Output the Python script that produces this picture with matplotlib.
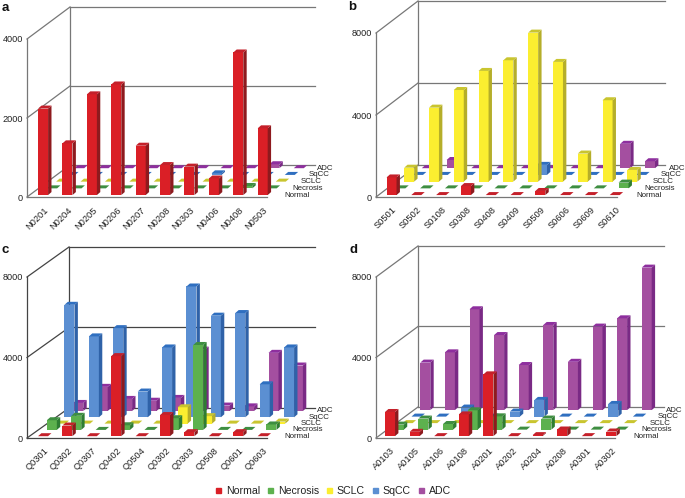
#Oblique bar charts of sample intensity per histology class
import matplotlib
matplotlib.use('Agg')
import matplotlib.pyplot as plt
from matplotlib.lines import Line2D
from matplotlib.patches import Polygon
from matplotlib.transforms import ScaledTranslation

plt.rcParams['font.family'] = ['Liberation Sans', 'DejaVu Sans']

series_names = ["Normal", "Necrosis", "SCLC", "SqCC", "ADC"]

labels_a = ["N0201", "N0204", "N0205", "N0206", "N0207", "N0208", "N0303", "N0406", "N0408", "N0503"]
normal_a = [2190, 1310, 2550, 2800, 1250, 760, 720, 420, 3610, 1690]
necrosis_a = [0, 0, 0, 0, 0, 0, 0, 0, 60, 0]
sclc_a = [0, 0, 0, 0, 0, 0, 0, 0, 0, 0]
sqcc_a = [0, 0, 0, 0, 0, 0, 40, 0, 0, 0]
adc_a = [0, 0, 0, 0, 0, 0, 0, 0, 100, 0]

labels_b = ["S0501", "S0502", "S0108", "S0308", "S0408", "S0409", "S0509", "S0606", "S0609", "S0610"]
normal_b = [860, 0, 0, 440, 0, 0, 200, 0, 0, 0]
necrosis_b = [0, 0, 0, 0, 0, 0, 0, 0, 0, 280]
sclc_b = [680, 3610, 4470, 5400, 5920, 7270, 5840, 1370, 3970, 570]
sqcc_b = [0, 0, 0, 0, 0, 490, 0, 0, 0, 0]
adc_b = [0, 400, 0, 0, 0, 0, 0, 0, 1190, 340]

labels_c = ["Q0301", "Q0302", "Q0307", "Q0402", "Q0504", "Q0302", "Q0303", "Q0508", "Q0601", "Q0603"]
normal_c = [0, 530, 0, 3980, 0, 1050, 200, 0, 200, 0]
necrosis_c = [480, 700, 0, 230, 0, 580, 4220, 0, 0, 270]
sclc_c = [0, 0, 0, 0, 0, 810, 370, 0, 0, 100]
sqcc_c = [5590, 4020, 4430, 1280, 3470, 6500, 5050, 5180, 1640, 3470]
adc_c = [400, 1200, 600, 510, 650, 3050, 270, 230, 2890, 2260]

labels_d = ["A0103", "A0105", "A0106", "A0108", "A0201", "A0202", "A0204", "A0208", "A0301", "A0302"]
normal_d = [1200, 215, 0, 1080, 3070, 0, 50, 330, 0, 230]
necrosis_d = [250, 550, 280, 960, 660, 0, 550, 0, 0, 0]
sclc_d = [0, 0, 0, 0, 0, 0, 0, 0, 0, 0]
sqcc_d = [0, 0, 450, 0, 250, 830, 0, 0, 630, 0]
adc_d = [2360, 2870, 5010, 3730, 2240, 4230, 2400, 4150, 4560, 7080]

ticks_a = [0, 2000, 4000]
ticks_bcd = [0, 4000, 8000]

front_colors = ["#DA1F26", "#5DB14E", "#FBEE30", "#5B8FD2", "#A44FA0"]
top_colors = ["#C4202A", "#3E8E41", "#C9C52F", "#2F6FC0", "#8E2F9E"]
side_colors = ["#8E1A1E", "#2E7D32", "#B5AE2A", "#2F62A8", "#7A2A85"]

W, H = 685, 498
fig = plt.figure(figsize=(W / 100, H / 100), dpi=100)
fig.patch.set_facecolor("white")


def draw_panel(labels, rows, ticks, x0, y0, back_x, back_y, right, front_right, bar0, step, wall):
    # pixels per data unit on each axis of this panel
    ppu = (y0 - wall[0]) / ticks[-1]
    top = back_y - (y0 - wall[0])
    ax = fig.add_axes([x0 / W, 1 - y0 / H, (right - x0) / W, (y0 - top) / H])
    ax.set_xlim((x0 - bar0) / step, (right - bar0) / step)
    ax.set_ylim(0, (y0 - top) / ppu)
    ax.patch.set_alpha(0)

    ux = 1 / step
    uy = 1 / ppu
    depth_x = (back_x - x0) * ux
    depth_y = (y0 - back_y) * uy
    xmin = ax.get_xlim()[0]
    xmax = ax.get_xlim()[1]

    # walls and grid
    wall_color = wall[1]
    for t in ticks:
        ax.plot([xmin, xmin + depth_x], [t, t + depth_y], color=wall_color, lw=0.9, zorder=1, clip_on=False)
        ax.plot([xmin + depth_x, xmax], [t + depth_y, t + depth_y], color=wall_color, lw=0.9, zorder=1, clip_on=False)
    ax.plot([xmin + depth_x, xmin + depth_x], [depth_y, ticks[-1] + depth_y], color=wall_color, lw=0.9, zorder=1, clip_on=False)

    half = 5.0 * ux
    sx = 3.4 * ux
    sy = 3.0 * uy
    order = 2
    for r in range(4, -1, -1):
        z = 0.06 + 0.21 * r
        ox = z * depth_x
        oy = z * depth_y
        for i in range(9, -1, -1):
            v = rows[r][i]
            xa = i + ox - half
            xb = i + ox + half
            kw = dict(closed=True, lw=0, zorder=order, clip_on=False)
            if v > 0:
                ax.add_patch(Polygon([(xa, oy), (xb, oy), (xb, oy + v), (xa, oy + v)], fc=front_colors[r], **kw))
                ax.add_patch(Polygon([(xb, oy), (xb + sx, oy + sy), (xb + sx, oy + v + sy), (xb, oy + v)], fc=side_colors[r], **kw))
            ax.add_patch(Polygon([(xa, oy + v), (xb, oy + v), (xb + sx, oy + v + sy), (xa + sx, oy + v + sy)], fc=top_colors[r], **kw))
            order += 0.01
        ax.text(9 + (24 + 8.2 * r) * ux, oy, series_names[r], fontsize=5.7, color="#222222",
                ha="left", va="center", zorder=50, clip_on=False)

    for side in ["top", "right"]:
        ax.spines[side].set_visible(False)
    ax.spines["left"].set_bounds(0, ticks[-1])
    ax.spines["bottom"].set_bounds(xmin, (front_right - bar0) / step)
    ax.spines["left"].set_color(wall_color)
    ax.spines["bottom"].set_color(wall_color)
    ax.spines["left"].set_linewidth(0.9)
    ax.spines["bottom"].set_linewidth(0.9)

    ax.set_yticks(ticks)
    ax.tick_params(axis="y", length=0, pad=3, labelsize=6.6, labelcolor="#222222")
    ax.set_xticks(range(10))
    ax.set_xticklabels(labels, rotation=45, ha="right", rotation_mode="anchor")
    ax.tick_params(axis="x", length=0, pad=6, labelsize=6.7, labelcolor="#222222")
    # labels sit a little right of the bars
    nudge = ScaledTranslation(3 / 100, 0, fig.dpi_scale_trans)
    for lab in ax.get_xticklabels():
        lab.set_transform(lab.get_transform() + nudge)
    return ax


draw_panel(labels_a, [normal_a, necrosis_a, sclc_a, sqcc_a, adc_a], ticks_a,
           27, 197, 70, 165, 315, 267, 40.5, 24.4, (39, "#777777"))
draw_panel(labels_b, [normal_b, necrosis_b, sclc_b, sqcc_b, adc_b], ticks_bcd,
           376, 197, 418, 165, 665, 617, 389, 24.8, (33, "#777777"))
draw_panel(labels_c, [normal_c, necrosis_c, sclc_c, sqcc_c, adc_c], ticks_bcd,
           27, 438, 69, 408, 315, 267, 40.5, 24.4, (277, "#444444"))
draw_panel(labels_d, [normal_d, necrosis_d, sclc_d, sqcc_d, adc_d], ticks_bcd,
           376, 438, 418, 407, 664, 615, 387.5, 24.6, (277, "#777777"))

for letter, px, py in [("a", 2, 8), ("b", 348, 7), ("c", 2, 250), ("d", 349, 250)]:
    fig.text(px / W, 1 - py / H, letter, fontsize=9.5, fontweight="bold", color="#111111", ha="left", va="center")

handles = [Line2D([], [], marker="s", linestyle="none", markersize=3.6, color=c) for c in front_colors]
fig.legend(handles, series_names, loc="center", bbox_to_anchor=(332 / W, 1 - 490.5 / H), ncol=5,
           frameon=False, fontsize=7.6, handlelength=0.9, handletextpad=0.3, columnspacing=0.5, labelcolor="#222222")

fig.savefig("out.png", dpi=100)
